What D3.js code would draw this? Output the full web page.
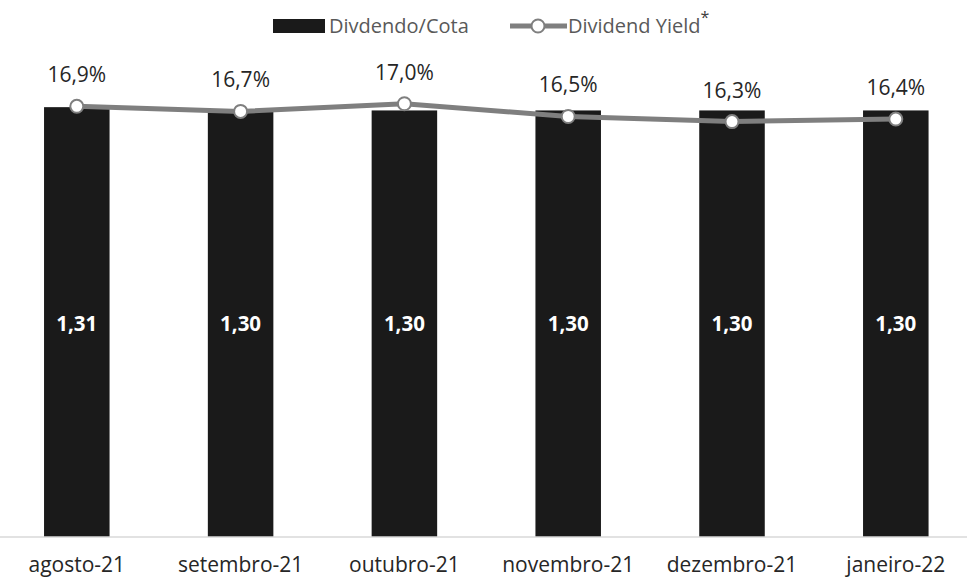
<!DOCTYPE html>
<html>
<head>
<meta charset="utf-8">
<script src="https://cdn.jsdelivr.net/npm/d3@7"></script>
<style>
  html, body { margin: 0; padding: 0; background: #fff; }
  svg { display: block; font-family: "Open Sans", sans-serif; }
</style>
</head>
<body>
<svg id="chart" width="967" height="578"></svg>
<script>
const categories = ["agosto-21", "setembro-21", "outubro-21", "novembro-21", "dezembro-21", "janeiro-22"];
const dividendValues = [1.31, 1.30, 1.30, 1.30, 1.30, 1.30];
const yieldValues = [16.9, 16.7, 17.0, 16.5, 16.3, 16.4];
const dividendLabels = ["1,31", "1,30", "1,30", "1,30", "1,30", "1,30"];
const yieldLabels = ["16,9%", "16,7%", "17,0%", "16,5%", "16,3%", "16,4%"];
const legendLabels = ["Divdendo/Cota", "Dividend Yield"];

const svg = d3.select("#chart");
const W = 967, H = 578;
const baseY = 537, topY = 12;

const x = d3.scaleBand().domain(categories).range([-5.1, 977.7]).paddingInner(0.6).paddingOuter(0.3);
const yBar = d3.scaleLinear().domain([0, 1.6]).range([baseY, topY]);
const yYield = d3.scaleLinear().domain([0, 20.6]).range([baseY, topY]);

// bars
svg.append("g").selectAll("rect").data(categories).join("rect")
  .attr("x", d => x(d))
  .attr("y", (d, i) => yBar(dividendValues[i]))
  .attr("width", x.bandwidth())
  .attr("height", (d, i) => baseY - yBar(dividendValues[i]))
  .attr("fill", "#1a1a1a");

// bar labels
svg.append("g").selectAll("text").data(categories).join("text")
  .attr("x", d => x(d) + x.bandwidth() / 2)
  .attr("y", 331)
  .attr("text-anchor", "middle")
  .attr("font-size", 20.5)
  .attr("font-weight", 700)
  .attr("fill", "#ffffff")
  .text((d, i) => dividendLabels[i]);

// axis
const axis = d3.axisBottom(x).tickSize(0).tickPadding(0);
const gAxis = svg.append("g").attr("transform", `translate(0,${baseY})`).call(axis);
gAxis.select(".domain").remove();
gAxis.append("line").attr("x1", 0).attr("x2", W).attr("y1", 0).attr("y2", 0)
  .attr("stroke", "#d9d9d9").attr("stroke-width", 1.5);
gAxis.selectAll(".tick text")
  .attr("y", 34.5).attr("dy", 0)
  .attr("font-size", 21)
  .attr("font-family", "Open Sans, sans-serif")
  .attr("fill", "#262626");

// line
const line = d3.line()
  .x((d, i) => x(categories[i]) + x.bandwidth() / 2)
  .y(d => yYield(d));
svg.append("path").datum(yieldValues)
  .attr("d", line)
  .attr("fill", "none")
  .attr("stroke", "#7f7f7f")
  .attr("stroke-width", 5)
  .attr("stroke-linejoin", "round");

svg.append("g").selectAll("circle").data(yieldValues).join("circle")
  .attr("cx", (d, i) => x(categories[i]) + x.bandwidth() / 2)
  .attr("cy", d => yYield(d))
  .attr("r", 6.5)
  .attr("fill", "#ffffff")
  .attr("stroke", "#7f7f7f")
  .attr("stroke-width", 2);

// yield labels
svg.append("g").selectAll("text").data(yieldValues).join("text")
  .attr("x", (d, i) => x(categories[i]) + x.bandwidth() / 2)
  .attr("y", d => yYield(d) - 24)
  .attr("text-anchor", "middle")
  .attr("font-size", 21)
  .attr("fill", "#262626")
  .text((d, i) => yieldLabels[i]);

// legend
const lg = svg.append("g").attr("font-size", 20).attr("fill", "#595959");
lg.append("rect").attr("x", 273).attr("y", 19).attr("width", 52).attr("height", 14).attr("fill", "#1a1a1a");
lg.append("text").attr("x", 329).attr("y", 33).text(legendLabels[0]);
lg.append("line").attr("x1", 510).attr("x2", 567).attr("y1", 26).attr("y2", 26)
  .attr("stroke", "#7f7f7f").attr("stroke-width", 5);
lg.append("circle").attr("cx", 538).attr("cy", 26).attr("r", 6.5)
  .attr("fill", "#fff").attr("stroke", "#7f7f7f").attr("stroke-width", 2);
const t2 = lg.append("text").attr("x", 568).attr("y", 33);
t2.append("tspan").text(legendLabels[1]);
t2.append("tspan").attr("dy", -10).attr("font-size", 16).attr("fill", "#404040").text("*");
</script>
</body>
</html>
